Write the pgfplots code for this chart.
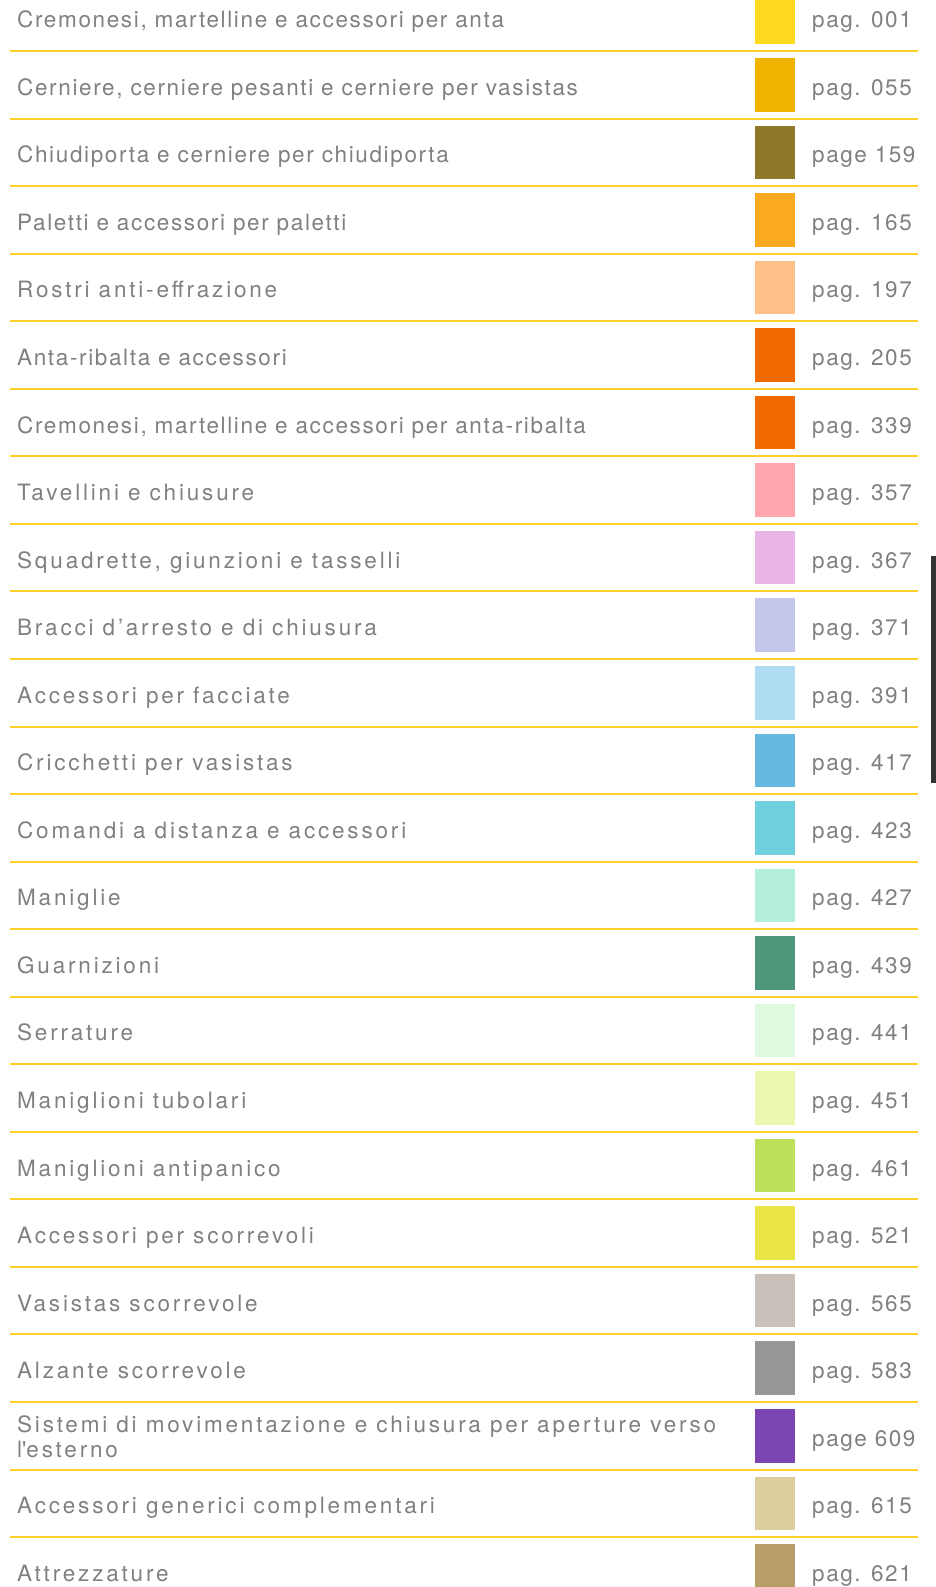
\documentclass[border=0pt]{standalone}
\usepackage{pgfplots}
\pgfplotsset{compat=1.18}
\usepackage{fontspec}
\setmainfont{TeX Gyre Heros}
\newfontfamily\fa[LetterSpace=7.3]{TeX Gyre Heros}
\newfontfamily\fb[LetterSpace=12.5]{TeX Gyre Heros}
\newfontfamily\fp[LetterSpace=7.0]{TeX Gyre Heros}
\definecolor{txt}{HTML}{808080}
\definecolor{sep}{HTML}{FFD02A}
\definecolor{c01}{HTML}{FDD91F}
\definecolor{c02}{HTML}{EFB300}
\definecolor{c03}{HTML}{8F782A}
\definecolor{c04}{HTML}{FBAA20}
\definecolor{c05}{HTML}{FFC08A}
\definecolor{c06}{HTML}{F06A00}
\definecolor{c07}{HTML}{F06A00}
\definecolor{c08}{HTML}{FFA5AC}
\definecolor{c09}{HTML}{EAB6E6}
\definecolor{c10}{HTML}{C5C6EC}
\definecolor{c11}{HTML}{B0DCF3}
\definecolor{c12}{HTML}{67B8DE}
\definecolor{c13}{HTML}{70D1DE}
\definecolor{c14}{HTML}{B3EFDA}
\definecolor{c15}{HTML}{4F977B}
\definecolor{c16}{HTML}{DDF9DF}
\definecolor{c17}{HTML}{EEF7B0}
\definecolor{c18}{HTML}{BDE15A}
\definecolor{c19}{HTML}{E9E547}
\definecolor{c20}{HTML}{C8C0B9}
\definecolor{c21}{HTML}{979797}
\definecolor{c22}{HTML}{7C45B1}
\definecolor{c23}{HTML}{DCCE9F}
\definecolor{c24}{HTML}{B79E69}
\definecolor{scroll}{HTML}{333333}
\tikzset{lab/.style={anchor=base west,inner sep=0pt,text=txt},
  la/.style={lab,font=\fontsize{22.5}{25}\fa},
  lb/.style={lab,font=\fontsize{22.5}{25}\fb},
  lp/.style={lab,font=\fontsize{22.5}{25}\fp}}
\newcommand{\sw}[3]{\addplot[draw=none,fill=#1] coordinates {(755,#2) (795,#2) (795,#3) (755,#3)} -- cycle;}
\newcommand{\sepl}[1]{\addplot[sep,line width=2pt] coordinates {(10,#1) (918,#1)};}
\begin{document}
\begin{tikzpicture}
\begin{axis}[width=936pt,height=1587pt,scale only axis,
  xmin=0,xmax=936,ymin=0,ymax=1587,y dir=reverse,hide axis,clip=true]
% separators
\sepl{51.00}\sepl{118.55}\sepl{186.10}\sepl{253.65}\sepl{321.20}\sepl{388.75}
\sepl{456.30}\sepl{523.85}\sepl{591.40}\sepl{658.95}\sepl{726.50}\sepl{794.05}
\sepl{861.60}\sepl{929.15}\sepl{996.70}\sepl{1064.25}\sepl{1131.80}\sepl{1199.35}
\sepl{1266.90}\sepl{1334.45}\sepl{1402.00}\sepl{1469.55}\sepl{1537.10}
% swatches
\sw{c01}{-9.55}{44.00}
\sw{c02}{58.00}{111.55}
\sw{c03}{125.55}{179.10}
\sw{c04}{193.10}{246.65}
\sw{c05}{260.65}{314.20}
\sw{c06}{328.20}{381.75}
\sw{c07}{395.75}{449.30}
\sw{c08}{463.30}{516.85}
\sw{c09}{530.85}{584.40}
\sw{c10}{598.40}{651.95}
\sw{c11}{665.95}{719.50}
\sw{c12}{733.50}{787.05}
\sw{c13}{801.05}{854.60}
\sw{c14}{868.60}{922.15}
\sw{c15}{936.15}{989.70}
\sw{c16}{1003.70}{1057.25}
\sw{c17}{1071.25}{1124.80}
\sw{c18}{1138.80}{1192.35}
\sw{c19}{1206.35}{1259.90}
\sw{c20}{1273.90}{1327.45}
\sw{c21}{1341.45}{1395.00}
\sw{c22}{1409.00}{1462.55}
\sw{c23}{1476.55}{1530.10}
\sw{c24}{1544.10}{1597.65}
% scrollbar
\addplot[draw=none,fill=scroll] coordinates {(931,555.7) (936,555.7) (936,783) (931,783)} -- cycle;
% labels
\node[la] at (axis cs:17,27.7) {Cremonesi, martelline e accessori per anta};
\node[la] at (axis cs:17,95.25) {Cerniere, cerniere pesanti e cerniere per vasistas};
\node[la] at (axis cs:17,162.8) {Chiudiporta e cerniere per chiudiporta};
\node[la] at (axis cs:17,230.35) {Paletti e accessori per paletti};
\node[lb] at (axis cs:17,297.9) {Rostri anti-effrazione};
\node[la] at (axis cs:17,365.45) {Anta-ribalta e accessori};
\node[la] at (axis cs:17,433.0) {Cremonesi, martelline e accessori per anta-ribalta};
\node[lb] at (axis cs:17,500.55) {Tavellini e chiusure};
\node[lb] at (axis cs:17,568.1) {Squadrette, giunzioni e tasselli};
\node[lb] at (axis cs:17,635.65) {Bracci d’arresto e di chiusura};
\node[lb] at (axis cs:17,703.2) {Accessori per facciate};
\node[lb] at (axis cs:17,770.75) {Cricchetti per vasistas};
\node[lb] at (axis cs:17,838.3) {Comandi a distanza e accessori};
\node[lb] at (axis cs:17,905.85) {Maniglie};
\node[lb] at (axis cs:17,973.4) {Guarnizioni};
\node[lb] at (axis cs:17,1040.95) {Serrature};
\node[lb] at (axis cs:17,1108.5) {Maniglioni tubolari};
\node[lb] at (axis cs:17,1176.05) {Maniglioni antipanico};
\node[lb] at (axis cs:17,1243.6) {Accessori per scorrevoli};
\node[lb] at (axis cs:17,1311.15) {Vasistas scorrevole};
\node[lb] at (axis cs:17,1378.7) {Alzante scorrevole};
\node[lb] at (axis cs:17,1432.5) {Sistemi di movimentazione e chiusura per aperture verso};
\node[lb] at (axis cs:17,1457.5) {l\textquotesingle esterno};
\node[lb] at (axis cs:17,1513.8) {Accessori generici complementari};
\node[lb] at (axis cs:17,1581.35) {Attrezzature};
% pages
\node[lp] at (axis cs:812,27.7) {pag. 001};
\node[lp] at (axis cs:812,95.25) {pag. 055};
\node[lp] at (axis cs:812,162.8) {page 159};
\node[lp] at (axis cs:812,230.35) {pag. 165};
\node[lp] at (axis cs:812,297.9) {pag. 197};
\node[lp] at (axis cs:812,365.45) {pag. 205};
\node[lp] at (axis cs:812,433.0) {pag. 339};
\node[lp] at (axis cs:812,500.55) {pag. 357};
\node[lp] at (axis cs:812,568.1) {pag. 367};
\node[lp] at (axis cs:812,635.65) {pag. 371};
\node[lp] at (axis cs:812,703.2) {pag. 391};
\node[lp] at (axis cs:812,770.75) {pag. 417};
\node[lp] at (axis cs:812,838.3) {pag. 423};
\node[lp] at (axis cs:812,905.85) {pag. 427};
\node[lp] at (axis cs:812,973.4) {pag. 439};
\node[lp] at (axis cs:812,1040.95) {pag. 441};
\node[lp] at (axis cs:812,1108.5) {pag. 451};
\node[lp] at (axis cs:812,1176.05) {pag. 461};
\node[lp] at (axis cs:812,1243.6) {pag. 521};
\node[lp] at (axis cs:812,1311.15) {pag. 565};
\node[lp] at (axis cs:812,1378.7) {pag. 583};
\node[lp] at (axis cs:812,1446.25) {page 609};
\node[lp] at (axis cs:812,1513.8) {pag. 615};
\node[lp] at (axis cs:812,1581.35) {pag. 621};
\end{axis}
\pgfresetboundingbox
\useasboundingbox (current axis.south west) rectangle (current axis.north east);
\end{tikzpicture}
\end{document}
